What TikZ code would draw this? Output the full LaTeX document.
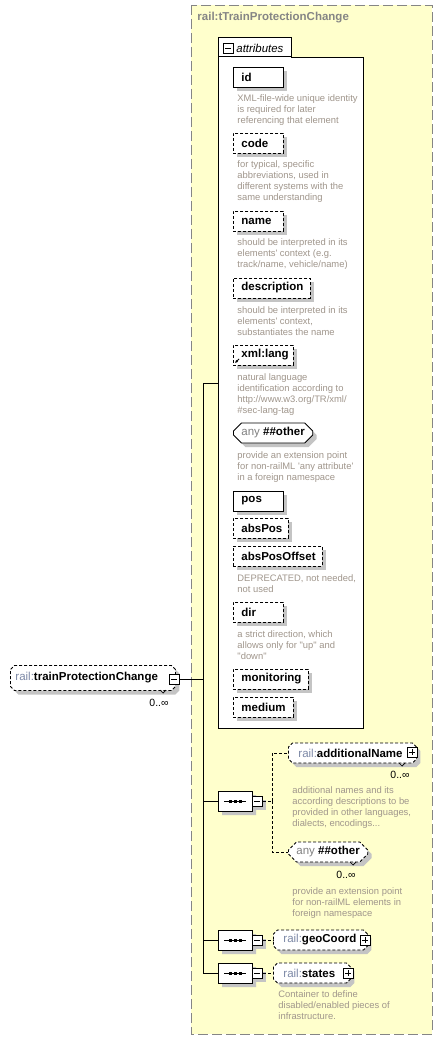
\documentclass[tikz,border=0pt]{standalone}
\usepackage{fontspec}
\usepackage{tikz}
\usetikzlibrary{arrows.meta,calc,shapes.misc,shadows}

\newfontfamily\uifont{Liberation Sans}
\definecolor{bgyellow}{HTML}{FFFFCC}
\definecolor{framegray}{HTML}{858585}
\definecolor{shadowgray}{HTML}{C4C4C4}
\definecolor{notegray}{HTML}{A0968C}
\definecolor{nsblue}{HTML}{7C88A6}

\begin{document}
\begin{tikzpicture}[x=1pt,y=-1pt,line width=0.9pt,
  lbl/.style={font=\uifont\bfseries\fontsize{11.5}{13}\selectfont},
  note/.style={font=\uifont\fontsize{9.4}{11}\selectfont,text=notegray,anchor=north west,inner sep=0pt,align=left},
  mult/.style={font=\uifont\fontsize{10.5}{12}\selectfont,inner sep=0pt},
  shade/.style={drop shadow={shadow xshift=4pt,shadow yshift=-4pt,fill=shadowgray,opacity=1}},
  opt/.style={dash pattern=on 3pt off 2pt},
  req/.style={solid},
  attr/.style={lbl,draw,fill=white,shade,anchor=west,minimum height=20pt,inner xsep=8pt,inner ysep=0pt,align=left},
  elem/.style={lbl,draw,opt,fill=white,shade,anchor=west,chamfered rectangle,chamfered rectangle xsep=2pt,chamfered rectangle ysep=2pt,minimum height=20pt,inner xsep=8pt,inner ysep=0pt,align=left},
  seqbox/.style={draw,fill=white,shade,chamfered rectangle,chamfered rectangle xsep=5pt,chamfered rectangle ysep=5pt,minimum width=34pt,minimum height=20pt,inner sep=0pt},
  toggle/.style={draw,solid,fill=white,minimum size=10pt,inner sep=0pt},
  minus/.style={toggle,path picture={\draw[line width=0.9pt] ([xshift=2pt]path picture bounding box.west) -- ([xshift=-2pt]path picture bounding box.east);}},
  plus/.style={toggle,path picture={\draw[line width=0.9pt] ([xshift=2pt]path picture bounding box.west) -- ([xshift=-2pt]path picture bounding box.east) ([yshift=-2pt]path picture bounding box.north) -- ([yshift=2pt]path picture bounding box.south);}},
  link/.style={opt}]
  \useasboundingbox (0,0) rectangle (443,1040);

  % Frame of the complex type
  \fill[bgyellow] (191,5) rectangle (432,1034);
  \draw[framegray,dash pattern=on 10pt off 4pt] (191,5) rectangle (432,1034);
  \node[lbl,text=framegray,anchor=west,inner sep=0pt] (title) at (197,18) {rail:tTrainProtectionChange};

  % Attributes group
  \node[draw,fill=white,anchor=north west,minimum width=145pt,minimum height=671pt,inner sep=0pt] (attrbox) at (218,57) {};
  \node[draw,fill=white,anchor=south west,minimum width=73pt,minimum height=19pt,inner sep=0pt] (attrtab) at (218,57) {};
  \draw[white] ([xshift=1pt]attrtab.south west) -- ([xshift=-1pt]attrtab.south east);
  \node[minus] (attrm) at (228,48) {};
  \node[font=\uifont\itshape\fontsize{11.4}{13}\selectfont,anchor=west,inner sep=0pt] (attrlbl) at (236,48) {attributes};

  \foreach[evaluate=\w as \tw using \w-17] \n/\t/\y/\w/\s in {id/id/77/51/req,code/code/143/51/opt,
      name/name/221/51/opt,descr/description/288/78/opt,lang/xml:lang/355/61/opt,pos/pos/501/51/req,
      abspos/absPos/528/56/opt,absoff/absPosOffset/556/90/opt,dir/dir/612/51/opt,
      monit/monitoring/679/76/opt,medium/medium/707/61/opt}
    \node[attr,\s,text width=\tw pt] (\n) at (233,\y) {\t};
  \node[attr,chamfered rectangle,chamfered rectangle xsep=4pt,chamfered rectangle ysep=4pt,inner xsep=4pt] (anyattr) at (233,433) {{\mdseries\color{gray}any}\ \#\#other};
  \draw[-{Latex[length=3pt,width=3pt]},line width=0.8pt] (239,359) -- (235,363);

  \node[note] (idnote) at (237,94.5) {XML-file-wide unique identity\\is required for later\\referencing that element};
  \node[note] (codenote) at (237,160.5) {for typical, specific\\abbreviations, used in\\different systems with the\\same understanding};
  \node[note] (namenote) at (237,238.5) {should be interpreted in its\\elements' context (e.g.\\track/name, vehicle/name)};
  \node[note] (descrnote) at (237,306.5) {should be interpreted in its\\elements' context,\\substantiates the name};
  \node[note] (langnote) at (237,373.5) {natural language\\identification according to\\http://www.w3.org/TR/xml/\\\#sec-lang-tag};
  \node[note] (anynote) at (237,451.5) {provide an extension point\\for non-railML 'any attribute'\\in a foreign namespace};
  \node[note] (absoffnote) at (237,574.5) {DEPRECATED, not needed,\\not used};
  \node[note] (dirnote) at (237,630.5) {a strict direction, which\\allows only for "up" and\\"down"};

  % The element itself
  \node[elem,minimum height=25pt,inner xsep=3pt,text width=155pt] (tpc) at (10,678) {{\mdseries\color{nsblue}rail:}trainProtectionChange};
  \node[minus] (tpcm) at (174,679) {};
  \node[mult] (tpcmult) at (159,703) {0..∞};
  \draw[line width=0.7pt] (160,690) -- (163,693) -- (166,690);

  % Trunk
  \coordinate (jattr) at (203,383);
  \coordinate (jend) at (203,973);
  \draw (jattr) -- (jend);
  \draw (jattr) -- (jattr -| attrbox.west);
  \draw (tpcm.east) -- (tpcm.east -| jattr);

  % Sequences
  \node[seqbox] (seqA) at (235,801) {};
  \node[seqbox] (seqB) at (235,940) {};
  \node[seqbox] (seqC) at (235,973) {};
  \foreach \q in {seqA,seqB,seqC} {
    \draw (\q.west -| jattr) -- (\q.west);
    \draw ($(\q.center)+(-11,0)$) -- ($(\q.center)+(11,0)$);
    \foreach \dx in {-5,0,5}
      \fill ($(\q.center)+(\dx,0)$) +(-1.5,-1.5) rectangle +(1.5,1.5);
    \node[minus,shade] (\q m) at ($(\q.east)+(5,0)$) {};
  }

  % Choice of first sequence
  \node[elem,text width=108pt] (addname) at (288,753) {{\mdseries\color{nsblue}rail:}additionalName};
  \node[plus] (addnamep) at (412,752) {};
  \node[mult] (addnamemult) at (400,775) {0..∞};
  \draw[line width=0.7pt] (399,763) -- (402,766) -- (405,763);
  \node[note] (addnamenote) at (292,786.5) {additional names and its\\according descriptions to be\\provided in other languages,\\dialects, encodings...};

  \node[elem,chamfered rectangle xsep=4pt,chamfered rectangle ysep=4pt,inner xsep=4pt] (anyelem) at (288,852) {{\mdseries\color{gray}any}\ \#\#other};
  \node[mult] (anyelemmult) at (346,875) {0..∞};
  \draw[line width=0.7pt] (350,862) -- (353,865) -- (356,862);
  \node[note] (anyelemnote) at (292,887.5) {provide an extension point\\for non-railML elements in\\foreign namespace};

  \coordinate (chA) at (272,801);
  \draw[link] (seqAm.east) -- (chA);
  \draw[link] (chA) |- (addname.west);
  \draw[link] (chA) |- (anyelem.west);

  % Second and third sequence
  \node[elem,text width=74pt] (geo) at (273,940) {{\mdseries\color{nsblue}rail:}geoCoord};
  \node[plus] (geop) at (365,940) {};
  \draw[link] (seqBm.east) -- (geo.west);

  \node[elem,text width=57pt] (states) at (273,973) {{\mdseries\color{nsblue}rail:}states};
  \node[plus] (statesp) at (348,973) {};
  \draw[link] (seqCm.east) -- (states.west);
  \node[note] (statesnote) at (278,990.5) {Container to define\\disabled/enabled pieces of\\infrastructure.};
\end{tikzpicture}
\end{document}
